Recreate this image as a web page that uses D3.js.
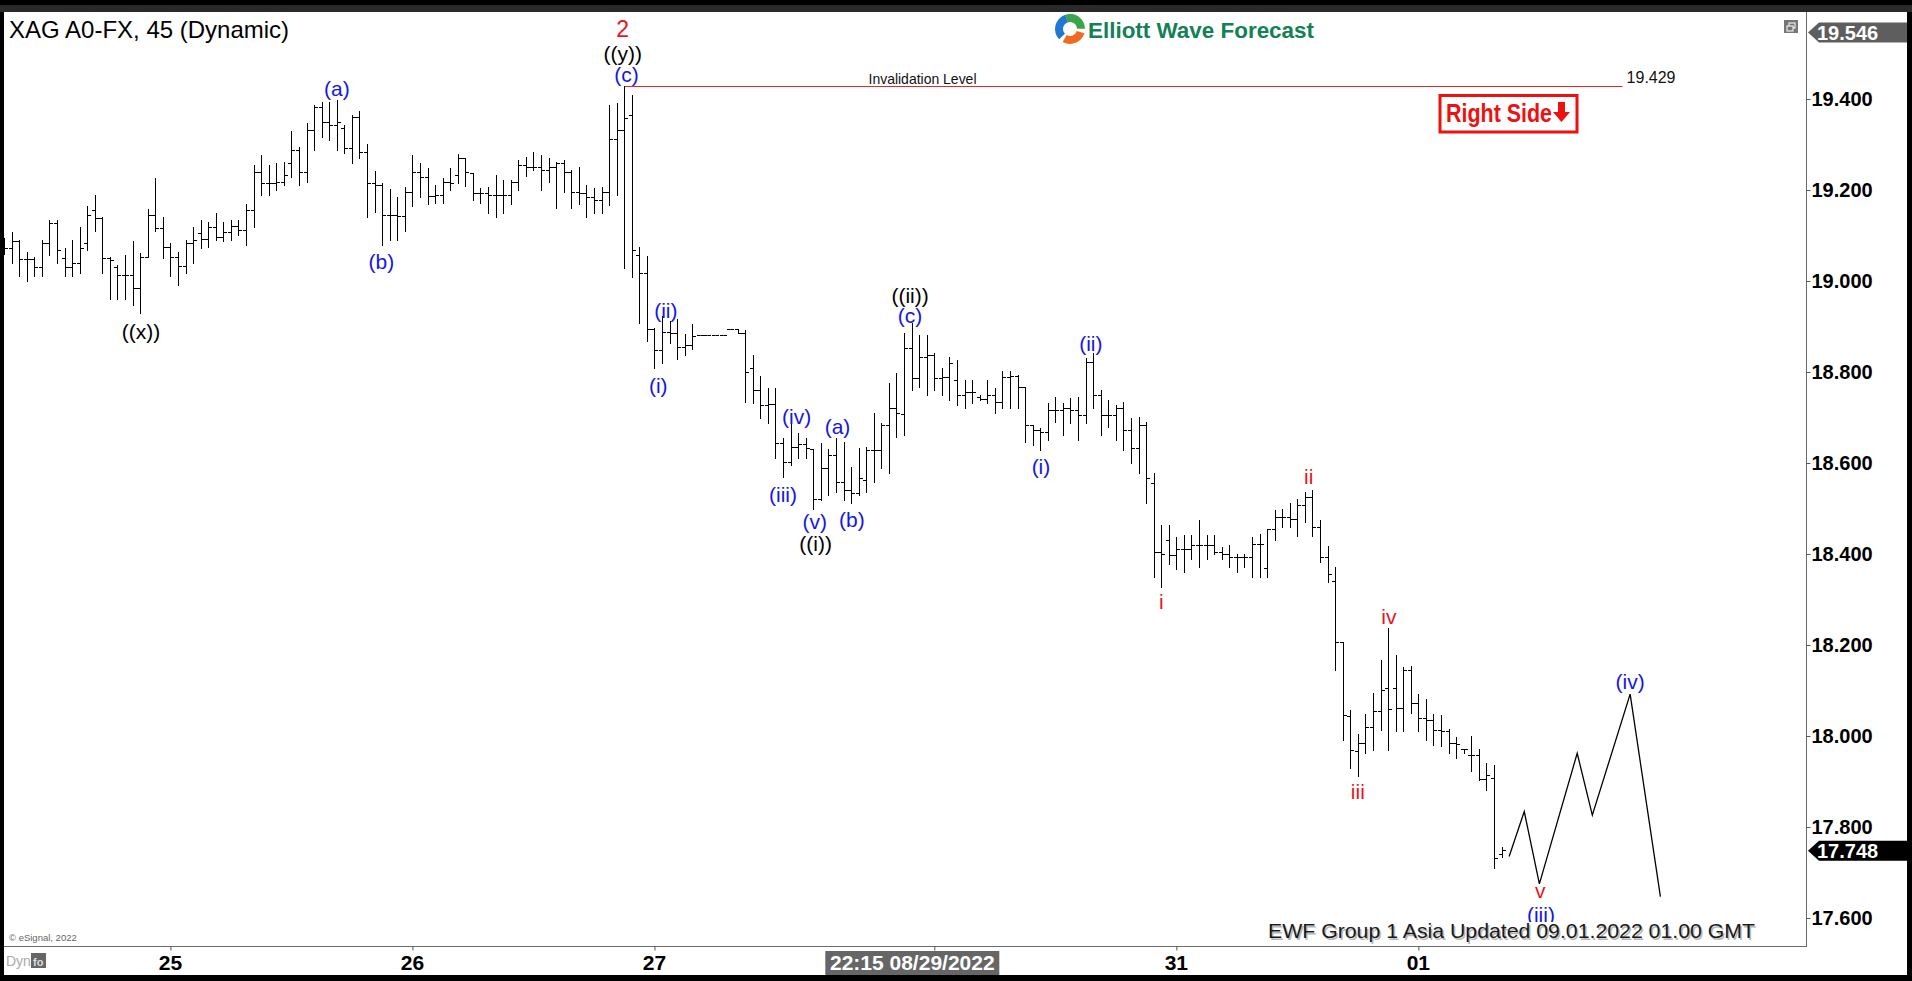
<!DOCTYPE html>
<html><head><meta charset="utf-8">
<script src="https://cdn.jsdelivr.net/npm/d3@7"></script>
<style>
html,body{margin:0;padding:0;background:#000;overflow:hidden}
svg{display:block}
text{font-family:"Liberation Sans",Arial,sans-serif}
</style></head><body>
<svg id="chart" width="1912" height="981"></svg>
<script>
// ---------------- DATA (45-minute OHLC bars, XAG A0-FX) ----------------
const barOpen = [
19.075,19.072,19.088,19.048,19.048,19.031,19.083,19.128,19.051,19.031,
19.039,19.083,19.157,19.138,19.050,19.030,19.013,19.013,18.984,19.053,
19.145,19.116,19.075,19.053,19.033,19.083,19.105,19.093,19.119,19.097,
19.108,19.121,19.112,19.156,19.240,19.215,19.215,19.218,19.260,19.288,
19.240,19.332,19.383,19.350,19.343,19.336,19.292,19.361,19.284,19.215,
19.211,19.145,19.145,19.142,19.196,19.240,19.229,19.187,19.189,19.218,
19.233,19.270,19.237,19.193,19.193,19.189,19.189,19.189,19.218,19.255,
19.251,19.251,19.245,19.251,19.259,19.240,19.196,19.193,19.185,19.178,
19.196,19.313,19.332,19.365,19.057,19.017,18.894,18.848,18.889,18.886,
18.856,18.860,18.881,18.881,18.881,18.881,18.894,18.894,18.885,18.808,
18.760,18.727,18.730,18.643,18.603,18.636,18.642,18.630,18.520,18.590,
18.618,18.559,18.541,18.535,18.563,18.628,18.628,18.683,18.720,18.707,
18.852,18.786,18.834,18.837,18.786,18.790,18.782,18.749,18.757,18.745,
18.740,18.749,18.735,18.790,18.791,18.766,18.683,18.672,18.669,18.716,
18.716,18.720,18.716,18.705,18.823,18.749,18.705,18.705,18.720,18.672,
18.632,18.683,18.555,18.405,18.430,18.398,18.412,18.412,18.420,18.420,
18.420,18.405,18.401,18.394,18.394,18.394,18.423,18.370,18.456,18.482,
18.481,18.476,18.508,18.526,18.459,18.394,18.341,18.207,18.045,17.968,
17.984,18.020,18.056,18.105,18.105,18.061,18.146,18.072,18.040,18.035,
18.013,18.010,17.984,17.971,17.958,17.958,17.905,17.907,17.740];
const barHigh = [
19.095,19.107,19.090,19.064,19.053,19.090,19.134,19.134,19.072,19.090,
19.119,19.165,19.189,19.141,19.053,19.035,19.057,19.089,19.061,19.158,
19.226,19.140,19.083,19.064,19.090,19.119,19.134,19.130,19.149,19.130,
19.135,19.134,19.169,19.255,19.277,19.255,19.259,19.262,19.330,19.295,
19.347,19.387,19.394,19.394,19.398,19.343,19.365,19.374,19.301,19.242,
19.216,19.202,19.185,19.207,19.276,19.259,19.248,19.211,19.226,19.248,
19.279,19.270,19.237,19.204,19.207,19.233,19.222,19.222,19.266,19.273,
19.283,19.277,19.270,19.262,19.266,19.244,19.251,19.211,19.204,19.207,
19.387,19.391,19.429,19.409,19.075,19.055,18.897,18.922,18.913,18.917,
18.883,18.905,18.881,18.881,18.881,18.881,18.894,18.894,18.892,18.837,
18.791,18.764,18.764,18.654,18.705,18.665,18.654,18.630,18.643,18.630,
18.654,18.647,18.592,18.632,18.636,18.709,18.687,18.775,18.797,18.885,
18.907,18.881,18.881,18.841,18.808,18.834,18.826,18.782,18.782,18.749,
18.782,18.764,18.803,18.802,18.793,18.768,18.683,18.676,18.731,18.746,
18.731,18.742,18.746,18.830,18.841,18.760,18.738,18.727,18.735,18.698,
18.702,18.691,18.577,18.464,18.464,18.438,18.442,18.442,18.475,18.442,
18.442,18.416,18.420,18.401,18.401,18.438,18.445,18.456,18.497,18.500,
18.511,18.520,18.537,18.541,18.475,18.418,18.372,18.207,18.057,18.004,
18.048,18.095,18.167,18.237,18.178,18.152,18.154,18.092,18.081,18.048,
18.046,18.015,17.998,17.971,18.000,17.971,17.941,17.936,17.755];
const barLow = [
19.060,19.039,19.010,18.999,19.010,19.010,19.057,19.039,19.010,19.010,
19.018,19.068,19.109,19.018,18.960,18.960,18.960,18.947,18.929,19.053,
19.109,19.050,19.010,18.991,19.017,19.039,19.072,19.075,19.090,19.087,
19.090,19.101,19.079,19.119,19.189,19.189,19.200,19.211,19.229,19.211,
19.218,19.288,19.317,19.310,19.288,19.281,19.259,19.270,19.140,19.152,
19.079,19.090,19.090,19.109,19.164,19.185,19.169,19.171,19.171,19.200,
19.215,19.209,19.178,19.171,19.149,19.141,19.149,19.169,19.200,19.231,
19.244,19.200,19.218,19.160,19.196,19.160,19.169,19.141,19.149,19.149,
19.167,19.189,19.028,19.009,18.908,18.869,18.809,18.820,18.863,18.829,
18.837,18.850,18.881,18.881,18.881,18.881,18.894,18.885,18.735,18.731,
18.700,18.687,18.610,18.570,18.596,18.610,18.610,18.500,18.519,18.530,
18.537,18.519,18.511,18.530,18.537,18.559,18.588,18.577,18.658,18.661,
18.760,18.768,18.749,18.760,18.749,18.738,18.727,18.720,18.731,18.738,
18.731,18.709,18.720,18.720,18.720,18.647,18.640,18.629,18.650,18.691,
18.661,18.687,18.650,18.687,18.720,18.661,18.680,18.650,18.629,18.599,
18.577,18.511,18.350,18.328,18.379,18.368,18.361,18.390,18.372,18.390,
18.401,18.390,18.372,18.361,18.372,18.350,18.350,18.350,18.431,18.460,
18.460,18.440,18.471,18.440,18.383,18.339,18.145,17.991,17.929,17.911,
17.962,17.969,18.013,17.969,18.010,18.010,18.051,18.010,17.991,17.980,
17.977,17.962,17.951,17.962,17.922,17.903,17.881,17.709,17.735];
const barClose = [
19.072,19.088,19.048,19.048,19.031,19.083,19.128,19.068,19.031,19.039,
19.072,19.145,19.138,19.050,19.046,19.013,19.013,18.984,19.053,19.145,
19.116,19.075,19.053,19.033,19.083,19.090,19.093,19.119,19.097,19.108,
19.121,19.112,19.156,19.240,19.215,19.215,19.218,19.232,19.288,19.240,
19.332,19.383,19.350,19.343,19.350,19.292,19.361,19.284,19.215,19.211,
19.145,19.145,19.142,19.196,19.240,19.229,19.187,19.189,19.218,19.216,
19.270,19.240,19.193,19.193,19.189,19.189,19.189,19.218,19.255,19.251,
19.251,19.245,19.251,19.259,19.240,19.196,19.193,19.185,19.178,19.196,
19.313,19.332,19.358,19.068,19.017,18.894,18.848,18.889,18.886,18.856,
18.860,18.880,18.881,18.881,18.881,18.881,18.894,18.885,18.801,18.760,
18.727,18.730,18.643,18.603,18.636,18.642,18.632,18.520,18.590,18.618,
18.559,18.541,18.535,18.566,18.628,18.628,18.683,18.720,18.709,18.852,
18.786,18.834,18.837,18.786,18.790,18.819,18.749,18.757,18.757,18.740,
18.749,18.735,18.790,18.791,18.766,18.683,18.672,18.669,18.716,18.716,
18.720,18.716,18.705,18.823,18.749,18.705,18.705,18.720,18.672,18.632,
18.683,18.566,18.405,18.401,18.398,18.412,18.412,18.420,18.420,18.420,
18.405,18.401,18.394,18.394,18.394,18.423,18.423,18.456,18.482,18.481,
18.476,18.508,18.526,18.460,18.394,18.357,18.207,18.046,17.969,17.984,
18.020,18.056,18.100,18.059,18.061,18.146,18.072,18.040,18.035,18.013,
18.010,17.984,17.982,17.971,17.958,17.905,17.914,17.731,17.749];

// projected path (bar index, price)
const projIndex = [199, 201, 203, 208, 210, 215, 219];
const projPrice = [17.735, 17.834, 17.675, 17.962, 17.826, 18.092, 17.647];

// price axis
const priceTicks = [17.6, 17.8, 18.0, 18.2, 18.4, 18.6, 18.8, 19.0, 19.2, 19.4];
const scaleTopPrice = 19.546;
const lastPrice = 17.748;

// date axis (bar index of each session start); the 30th is hidden under the cursor label
const dateTickIndex = [22, 54, 86, 123, 155, 187];
const dateLabelIndex = [22, 54, 86, 155, 187];
const dateLabels = ["25", "26", "27", "31", "01"];
const cursorIndex = 123;
const cursorLabel = "22:15 08/29/2022";

// invalidation level
const invalidationPrice = 19.429;
const invalidationFrom = 82;
const invalidationTo = 214;

// Elliott wave labels
const waveText   = ["2","((y))","(c)","(a)","(b)","((x))","(ii)","(i)","((ii))","(c)","(iv)","(a)","(iii)","(b)","(v)","((i))","(i)","(ii)","i","ii","iv","iii","(iv)","v","(iii)"];
const waveIndex  = [81.8,81.8,82.3,44.0,49.9,18.1,87.5,86.5,119.8,119.8,104.8,110.2,103.0,112.1,107.2,107.3,137.1,143.7,153.0,172.5,183.1,179.0,215.0,203.1,203.2];
const wavePrice  = [19.554,19.501,19.453,19.424,19.042,18.890,18.936,18.771,18.969,18.925,18.703,18.680,18.530,18.477,18.471,18.424,18.592,18.863,18.295,18.570,18.262,17.878,18.121,17.660,17.607];
const waveDegree = ["Minor","Minute","Minuette","Minuette","Minuette","Minute","Minuette","Minuette","Minute","Minuette","Minuette","Minuette","Minuette","Minuette","Minuette","Minute","Minuette","Minuette","Sub","Sub","Sub","Sub","Minuette","Sub","Minuette"];

// ---------------- DRAWING ----------------
const W = 1912, H = 981;
const plotL = 4, plotR = 1806, plotT = 12, plotB = 946;
const degreeColor = {Minor:"#e8151b", Minute:"#000000", Minuette:"#1515e6", Sub:"#e8151b"};

const svg = d3.select("#chart");
const x = d3.scaleLinear().domain([0, 238.25]).range([plotL, plotR]);
const y = d3.scaleLinear().domain([17.6, 19.4]).range([918, 99]);

// frame
svg.append("rect").attr("width", W).attr("height", H).attr("fill", "#000");
svg.append("rect").attr("x", 0).attr("y", 5).attr("width", W).attr("height", 7).attr("fill", "#2a2a2a");
svg.append("rect").attr("x", plotL).attr("y", plotT).attr("width", 1907 - plotL).attr("height", 975 - plotT).attr("fill", "#fff");

const defs = svg.append("defs");
defs.append("clipPath").attr("id", "plotClip").append("rect")
  .attr("x", plotL).attr("y", plotT).attr("width", plotR - plotL).attr("height", plotB - plotT);

const plot = svg.append("g").attr("clip-path", "url(#plotClip)");

// invalidation line
plot.append("line")
  .attr("x1", x(invalidationFrom)).attr("x2", x(invalidationTo))
  .attr("y1", Math.round(y(invalidationPrice)) + 0.5).attr("y2", Math.round(y(invalidationPrice)) + 0.5)
  .attr("stroke", "#e02828").attr("stroke-width", 1);
plot.append("text").attr("x", x(114.3)).attr("y", y(invalidationPrice) - 2)
  .attr("font-size", 15).attr("textLength", 108).attr("lengthAdjust", "spacingAndGlyphs")
  .attr("fill", "#111").text("Invalidation Level");
plot.append("text").attr("x", x(invalidationTo) + 4).attr("y", y(invalidationPrice) - 3)
  .attr("font-size", 16).attr("fill", "#111").text(invalidationPrice.toFixed(3));

// OHLC bars
const bars = d3.range(barClose.length).map(i => ({i, o: barOpen[i], h: barHigh[i], l: barLow[i], c: barClose[i]}));
plot.append("g").selectAll("path").data(bars).join("path")
  .attr("d", d => {
    const xi = Math.round(x(d.i)) + 0.5;
    const yh = Math.round(y(d.h)), yl = Math.round(y(d.l));
    const yo = Math.round(y(d.o)) + 0.5, yc = Math.round(y(d.c)) + 0.5;
    let p = "";
    if (yl > yh) p += `M${xi},${yh}V${yl + 1}`;
    p += `M${xi - 3.5},${yo}H${xi}M${xi},${yc}H${xi + 3.5}`;
    return p;
  })
  .attr("stroke", "#000").attr("stroke-width", 1).attr("fill", "none");

// projection line
const proj = projIndex.map((d, k) => [x(d), y(projPrice[k])]);
plot.append("path").attr("d", d3.line()(proj))
  .attr("fill", "none").attr("stroke", "#000").attr("stroke-width", 1.3);

// wave labels
plot.append("g").selectAll("text").data(waveText).join("text")
  .attr("x", (d, k) => x(waveIndex[k]))
  .attr("y", (d, k) => y(wavePrice[k]))
  .attr("text-anchor", "middle").attr("dy", "0.36em")
  .attr("font-size", (d, k) => waveDegree[k] === "Minor" ? 23 : 21)
  .attr("fill", (d, k) => degreeColor[waveDegree[k]])
  .text(d => d);

// EWF update text with backing
const ewf = "EWF Group 1 Asia Updated 09.01.2022 01.00 GMT";
plot.append("rect").attr("x", 1266).attr("y", 922).attr("width", 494).attr("height", 24).attr("fill", "#fff");
plot.append("text").attr("x", 1269.5).attr("y", 939.5).attr("font-size", 21).attr("fill", "#b8b8b8")
  .attr("textLength", 487).attr("lengthAdjust", "spacingAndGlyphs").text(ewf);
plot.append("text").attr("x", 1268).attr("y", 938).attr("font-size", 21).attr("fill", "#1a1a1a")
  .attr("textLength", 487).attr("lengthAdjust", "spacingAndGlyphs").text(ewf);

// title
svg.append("text").attr("x", 9).attr("y", 38).attr("font-size", 24).attr("fill", "#000").text("XAG A0-FX, 45 (Dynamic)");

// logo
const logo = svg.append("g").attr("transform", "translate(1070,29)");
const arc = d3.arc().innerRadius(7).outerRadius(15);
[["#3aa64a", -0.35, 1.55], ["#f26a21", 1.85, 3.65], ["#1f78d1", 3.95, 5.95]].forEach(([c, a0, a1]) => {
  logo.append("path").attr("d", arc({startAngle: a0, endAngle: a1})).attr("fill", c);
});
svg.append("text").attr("x", 1088).attr("y", 38).attr("font-size", 22).attr("font-weight", "bold")
  .attr("fill", "#138055").attr("textLength", 226).attr("lengthAdjust", "spacingAndGlyphs").text("Elliott Wave Forecast");

// Right Side box
svg.append("rect").attr("x", 1440).attr("y", 95.5).attr("width", 137).attr("height", 36.5)
  .attr("fill", "#fff").attr("stroke", "#ee1111").attr("stroke-width", 3);
svg.append("text").attr("x", 1446).attr("y", 121.5).attr("font-size", 25).attr("font-weight", "bold")
  .attr("fill", "#ee1111").attr("textLength", 106).attr("lengthAdjust", "spacingAndGlyphs").text("Right Side");
svg.append("path").attr("d", "M1558,102H1565V112H1570L1561.5,122L1553,112H1558Z").attr("fill", "#ee1111");

// small window icon
svg.append("rect").attr("x", 1784).attr("y", 20).attr("width", 14).attr("height", 13).attr("fill", "#777");
svg.append("rect").attr("x", 1789).attr("y", 23).attr("width", 6).attr("height", 5).attr("fill", "none").attr("stroke", "#fff").attr("stroke-width", 1);
svg.append("rect").attr("x", 1787).attr("y", 26).attr("width", 6).attr("height", 5).attr("fill", "#777").attr("stroke", "#fff").attr("stroke-width", 1);

// axes lines
svg.append("line").attr("x1", plotR + 0.5).attr("x2", plotR + 0.5).attr("y1", plotT).attr("y2", plotB + 1).attr("stroke", "#6a6a6a");
svg.append("line").attr("x1", plotL).attr("x2", plotR).attr("y1", plotB + 0.5).attr("y2", plotB + 0.5).attr("stroke", "#6a6a6a");

// y axis
const yAxis = svg.append("g").attr("transform", `translate(${plotR + 0.5},0)`)
  .call(d3.axisRight(y).tickValues(priceTicks).tickFormat(d3.format(".3f")).tickSize(4).tickPadding(1));
yAxis.select(".domain").remove();
yAxis.selectAll("line").attr("stroke", "#555");
yAxis.selectAll("text").attr("font-size", 20).attr("font-weight", "bold").attr("fill", "#000")
  .attr("font-family", "'Liberation Sans',Arial,sans-serif");

// price boxes
function priceBox(price, fill) {
  const yc = y(price);
  svg.append("path").attr("d", `M1808,${yc}L1819,${yc - 10}H1907V${yc + 10}H1819Z`).attr("fill", fill);
  svg.append("text").attr("x", 1817).attr("y", yc).attr("dy", "0.36em").attr("font-size", 20)
    .attr("font-weight", "bold").attr("fill", "#fff").text(price.toFixed(3));
}
priceBox(scaleTopPrice, "#5e5e5e");
priceBox(lastPrice, "#000");

// x axis: tick marks at every session start, labels where visible
const xAxis = svg.append("g").attr("transform", `translate(0,${plotB + 0.5})`)
  .call(d3.axisBottom(x).tickValues(dateTickIndex).tickFormat("").tickSize(4));
xAxis.select(".domain").remove();
xAxis.selectAll("line").attr("stroke", "#555");
svg.append("g").selectAll("text").data(dateLabels).join("text")
  .attr("x", (d, k) => x(dateLabelIndex[k])).attr("y", 970)
  .attr("text-anchor", "middle").attr("font-size", 21).attr("font-weight", "bold").attr("fill", "#000")
  .text(d => d);

// cursor date box
const cx = x(cursorIndex) - 22;
svg.append("rect").attr("x", cx - 87).attr("y", 951).attr("width", 174).attr("height", 24).attr("fill", "#666");
svg.append("text").attr("x", cx).attr("y", 970).attr("text-anchor", "middle").attr("font-size", 21)
  .attr("font-weight", "bold").attr("fill", "#fff").text(cursorLabel);

// bottom-left notes
svg.append("text").attr("x", 9).attr("y", 941).attr("font-size", 9.5).attr("fill", "#666").text("© eSignal, 2022");
svg.append("text").attr("x", 6).attr("y", 966).attr("font-size", 14).attr("fill", "#aaa").text("Dyn");
svg.append("rect").attr("x", 31).attr("y", 953).attr("width", 15).attr("height", 15).attr("fill", "#666");
svg.append("text").attr("x", 33).attr("y", 966).attr("font-size", 11).attr("font-weight", "bold").attr("fill", "#ddd").text("fo");
</script>
</body></html>
